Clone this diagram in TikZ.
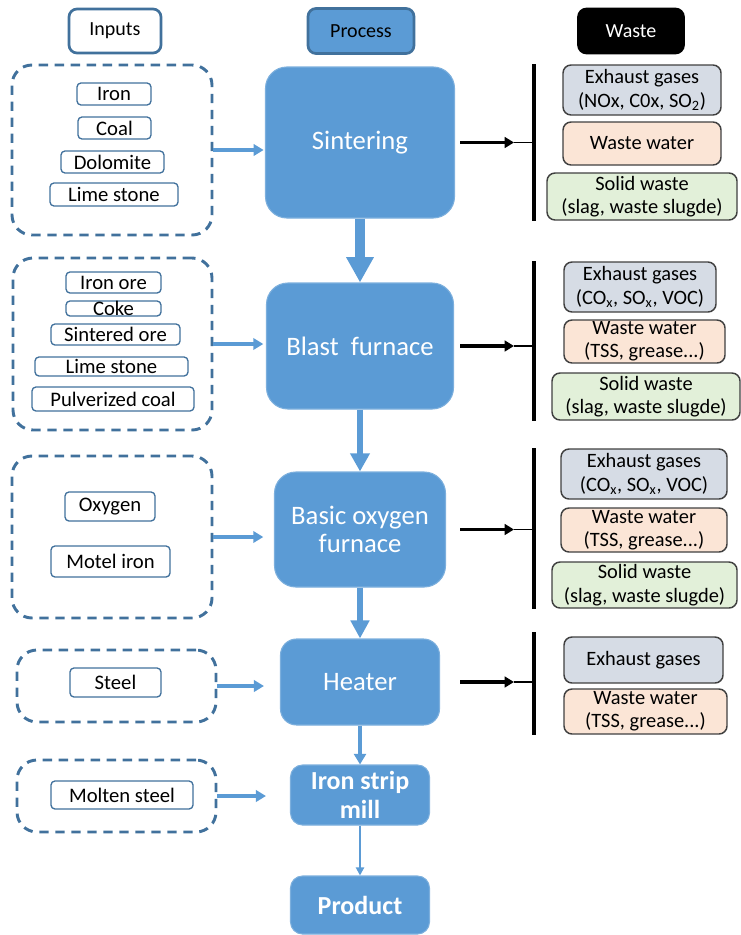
\documentclass[tikz,border=0pt]{standalone}
\usepackage{fontspec}
\setmainfont{Carlito}
\usepackage{tikz}
\usetikzlibrary{arrows.meta,positioning,calc}
\definecolor{procblue}{HTML}{5B9BD5}
\definecolor{edgeblue}{HTML}{41719C}
\definecolor{gasfill}{HTML}{D6DCE5}
\definecolor{waterfill}{HTML}{FBE5D6}
\definecolor{solidfill}{HTML}{E2F0D9}
\definecolor{wedge}{HTML}{404040}

\begin{document}
\begin{tikzpicture}[
  x=0.75pt, y=-0.75pt,
  hdr/.style={rectangle, rounded corners=6pt, line width=2pt, inner sep=0pt, font=\fontsize{15}{18}\selectfont},
  proc/.style={rectangle, rounded corners=16pt, fill=procblue, draw=procblue!80!white, line width=0.8pt, text=white, align=center, inner sep=0pt, font=\fontsize{20}{21}\selectfont},
  procb/.style={proc, rounded corners=9pt, font=\fontsize{19.5}{22}\selectfont\bfseries},
  grp/.style={rectangle, rounded corners=15pt, draw=edgeblue, dash pattern=on 7pt off 5pt, line width=2.2pt, inner sep=0pt},
  item/.style={rectangle, rounded corners=3pt, draw=edgeblue, line width=1pt, fill=white, inner sep=0pt, font=\fontsize{15.5}{18}\selectfont},
  waste/.style={rectangle, rounded corners=6pt, draw=wedge, line width=1.1pt, align=center, inner sep=0pt, font=\fontsize{15.3}{17.5}\selectfont},
  inarr/.style={-{Triangle[length=7.5pt,width=8.5pt]}, procblue, line width=2.5pt},
  wastearr/.style={draw=black, line width=2.4pt, -{Triangle[length=7pt,width=8pt]}},
  wtick/.style={draw=black, line width=1.2pt},
  bar/.style={line width=3pt}
]
  \useasboundingbox (0,0) rectangle (740,935);

  % headers
  \node[hdr, draw=edgeblue, fill=white, minimum width=69pt, minimum height=33pt] (hin) at (115,31) {Inputs};
  \node[hdr, draw=edgeblue, fill=procblue, minimum width=79.5pt, minimum height=33.75pt] (hproc) at (361,31) {Process};
  \node[hdr, draw=black, fill=black, text=white, minimum width=78.75pt, minimum height=33pt] (hwaste) at (631,31) {Waste};

  % process chain
  \node[proc, minimum width=141.75pt, minimum height=113.25pt] (sint) at (360,142.5) {Sintering};
  \node[proc, minimum width=140.25pt, minimum height=94.5pt] (blast) at (360,346) {Blast\ \ furnace};
  \node[proc, minimum width=128.25pt, minimum height=86.25pt] (bof) at (360,529.5) {Basic oxygen\\furnace};
  \node[proc, rounded corners=12pt, minimum width=119.25pt, minimum height=64.5pt] (heat) at (360,682) {Heater};
  \node[procb, minimum width=104.25pt, minimum height=45pt] (ism) at (360,795) {Iron strip\\mill};
  \node[procb, minimum width=104.25pt, minimum height=43.5pt] (prod) at (360,905) {Product};

  \draw[-{Triangle[length=19pt,width=19.5pt]}, procblue, line width=7.5pt] (sint) -- (blast);
  \draw[-{Triangle[length=13.5pt,width=14pt]}, procblue, line width=5pt] (blast) -- (bof);
  \draw[-{Triangle[length=13.5pt,width=13.5pt]}, procblue, line width=5pt] (bof) -- (heat);
  \draw[-{Triangle[length=8pt,width=9pt]}, procblue, line width=3pt] (heat) -- (ism);
  \draw[-{Triangle[length=6pt,width=6pt]}, procblue, line width=1.5pt] (ism) -- (prod);

  % inputs
  \node[grp, minimum width=150pt, minimum height=127.5pt] (g1) at (112,150) {};
  \node[item, minimum width=55.5pt, minimum height=16.5pt] (i11) at (114,94) {Iron};
  \node[item, minimum width=54.75pt, minimum height=16.5pt] (i12) at (114.5,128) {Coal};
  \node[item, minimum width=77.25pt, minimum height=16.5pt] (i13) at (112.5,162) {Dolomite};
  \node[item, minimum width=96pt, minimum height=17.25pt] (i14) at (114,194.5) {Lime stone};

  \node[grp, minimum width=149.25pt, minimum height=129pt] (g2) at (112.5,344) {};
  \node[item, minimum width=71.25pt, minimum height=15.75pt] (i21) at (113.5,282.5) {Iron ore};
  \node[item, minimum width=71.25pt, minimum height=11.25pt] (i22) at (113.5,308.5) {Coke};
  \node[item, minimum width=96.75pt, minimum height=15.75pt] (i23) at (115.5,334.5) {Sintered ore};
  \node[item, minimum width=114.75pt, minimum height=14.25pt] (i24) at (111.5,366.5) {Lime stone};
  \node[item, minimum width=121.5pt, minimum height=18pt] (i25) at (113,399) {Pulverized coal};

  \node[grp, minimum width=150pt, minimum height=121.5pt] (g3) at (112,537) {};
  \node[item, minimum width=67.5pt, minimum height=21.75pt] (i31) at (110,506.5) {Oxygen};
  \node[item, minimum width=89.25pt, minimum height=23.25pt] (i32) at (110.5,561.5) {Motel iron};

  \node[grp, minimum width=149.25pt, minimum height=54pt] (g4) at (116.5,686) {};
  \node[item, minimum width=68.25pt, minimum height=21.75pt] (i41) at (115.5,682.5) {Steel};

  \node[grp, minimum width=149.25pt, minimum height=54pt] (g5) at (116.5,796) {};
  \node[item, minimum width=106.5pt, minimum height=21pt] (i51) at (122,795) {Molten steel};

  \draw[inarr, shorten >=1pt] (g1.east) -- (g1.east -| sint.west);
  \draw[inarr, shorten >=2pt] (g2.east) -- (g2.east -| blast.west);
  \draw[inarr, shorten >=8pt] (g3.east) -- (g3.east -| bof.west);
  \draw[inarr, shorten >=12pt] (g4.east) -- (g4.east -| heat.west);
  \draw[inarr, shorten >=18pt] (g5.east) -- (g5.east -| ism.west);

  % waste
  \coordinate (wx) at (460,0);
  \coordinate (tx) at (514,0);
  \coordinate (bx) at (534,0);

  \node[waste, fill=gasfill, minimum width=118.5pt, minimum height=37.5pt] (e1) at (642,90) {Exhaust gases\\(NOx, C0x, SO\textsubscript{2})};
  \node[waste, fill=waterfill, minimum width=118.5pt, minimum height=32.25pt] (w1) at (642,143.5) {Waste water};
  \node[waste, fill=solidfill, minimum width=142.5pt, minimum height=35.25pt] (s1) at (642,196.5) {Solid waste\\(slag, waste slugde)};

  \node[waste, fill=gasfill, minimum width=114pt, minimum height=37.5pt] (e2) at (640,287) {Exhaust gases\\(CO\textsubscript{x}, SO\textsubscript{x}, VOC)};
  \node[waste, fill=waterfill, minimum width=120.75pt, minimum height=32.25pt] (w2) at (644.5,341.5) {Waste water\\(TSS, grease...)};
  \node[waste, fill=solidfill, minimum width=141pt, minimum height=35.25pt] (s2) at (646,396.5) {Solid waste\\(slag, waste slugde)};

  \node[waste, fill=gasfill, minimum width=124.5pt, minimum height=37.5pt] (e3) at (644,474) {Exhaust gases\\(CO\textsubscript{x}, SO\textsubscript{x}, VOC)};
  \node[waste, fill=waterfill, minimum width=124.5pt, minimum height=33pt] (w3) at (644,530) {Waste water\\(TSS, grease...)};
  \node[waste, fill=solidfill, minimum width=138.75pt, minimum height=34.5pt] (s3) at (644.5,585) {Solid waste\\(slag, waste slugde)};

  \node[waste, fill=gasfill, minimum width=119.25pt, minimum height=34.5pt] (e4) at (643.5,660) {Exhaust gases};
  \node[waste, fill=waterfill, minimum width=122.25pt, minimum height=33.75pt] (w4) at (645.5,711.5) {Waste water\\(TSS, grease...)};

  \draw[bar] (bx |- e1.north) -- (bx |- s1.south);
  \draw[bar] (bx |- e2.north) -- (bx |- s2.south);
  \draw[bar] (bx |- e3.north) -- (bx |- s3.south);
  \draw[bar] ([yshift=3pt]bx |- e4.north) -- (bx |- w4.south);

  \draw[wastearr] (sint.east -| wx) -- (sint.east -| tx);
  \draw[wtick] (sint.east -| tx) -- (sint.east -| bx);
  \draw[wastearr] (blast.east -| wx) -- (blast.east -| tx);
  \draw[wtick] (blast.east -| tx) -- (blast.east -| bx);
  \draw[wastearr] (bof.east -| wx) -- (bof.east -| tx);
  \draw[wtick] (bof.east -| tx) -- (bof.east -| bx);
  \draw[wastearr] (heat.east -| wx) -- (heat.east -| tx);
  \draw[wtick] (heat.east -| tx) -- (heat.east -| bx);
\end{tikzpicture}
\end{document}
